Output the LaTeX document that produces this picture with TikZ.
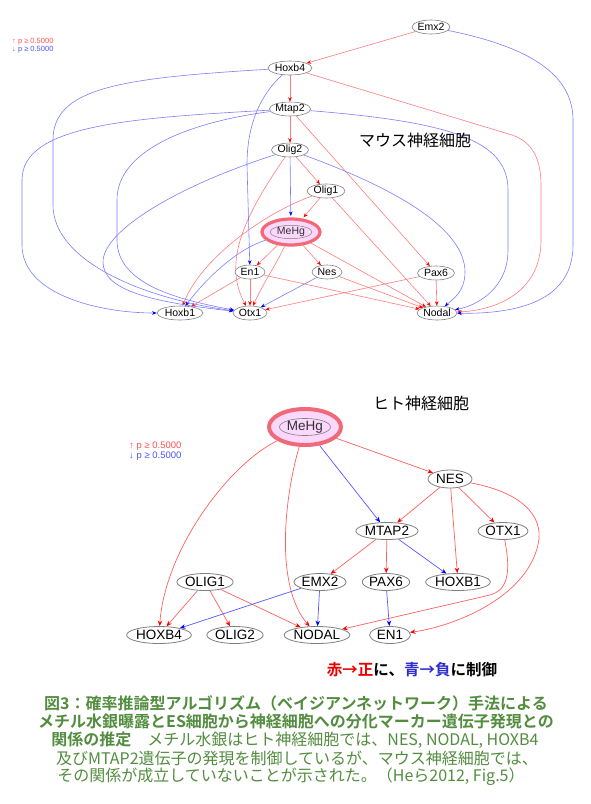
\documentclass[tikz,border=0pt]{standalone}
\usepackage{fontspec}
\setmainfont{Liberation Sans}
\newfontfamily\cjk{Noto Sans CJK JP}[BoldFont={Noto Sans CJK JP Bold}]
\usetikzlibrary{shapes.geometric,arrows.meta}
\pgfdeclarelayer{bg}
\pgfsetlayers{bg,main}
\definecolor{lred}{RGB}{255,125,125}
\definecolor{lblue}{RGB}{125,125,255}
\definecolor{ared}{RGB}{255,0,0}
\definecolor{ablue}{RGB}{0,0,255}
\definecolor{bred}{RGB}{255,95,95}
\definecolor{bblue}{RGB}{85,85,255}
\definecolor{capgreen}{RGB}{82,140,62}
\definecolor{nodegray}{RGB}{128,128,128}
\definecolor{mepink}{RGB}{252,215,252}
\definecolor{meborder}{RGB}{240,105,120}
\definecolor{legred}{RGB}{255,80,80}
\definecolor{legblue}{RGB}{80,80,255}
\definecolor{labred}{RGB}{235,0,0}
\definecolor{labblue}{RGB}{45,45,210}
\tikzset{
  tn/.style={ellipse, draw=nodegray, fill=white, line width=0.6pt, inner sep=0pt, minimum height=14pt, font=\fontsize{10.5}{11}\selectfont},
  bn/.style={ellipse, draw=nodegray, fill=white, line width=0.8pt, inner sep=0pt, minimum height=17pt, font=\fontsize{13.5}{14}\selectfont},
  tr/.style={draw=lred, line width=0.6pt, -{Stealth[length=4.5pt,width=3.6pt,color=ared]}},
  tb/.style={draw=lblue, line width=0.6pt, -{Stealth[length=4.5pt,width=3.6pt,color=ablue]}},
  br/.style={draw=bred, line width=0.7pt, -{Stealth[length=5.5pt,width=4.5pt,color=ared]}},
  bb/.style={draw=bblue, line width=0.7pt, -{Stealth[length=5.5pt,width=4.5pt,color=ablue]}},
  captext/.style={text=capgreen, inner sep=0pt, font=\cjk\fontsize{16}{16}\selectfont},
  ttl/.style={inner sep=0pt, font=\cjk\fontsize{16}{16}\selectfont},
}
\begin{document}
\begin{tikzpicture}[x=1pt,y=-1pt]
\useasboundingbox (0,0) rectangle (590,804);

% ---------------- top graph (mouse) ----------------
\node[tn, minimum width=38pt] (emx2) at (431,27) {Emx2};
\node[tn, minimum width=44pt] (hoxb4) at (290,68) {Hoxb4};
\node[tn, minimum width=40pt] (mtap2) at (290,109) {Mtap2};
\node[tn, minimum width=37pt] (olig2) at (290,150) {Olig2};
\node[tn, minimum width=38pt] (olig1) at (326,191) {Olig1};
\node[ellipse, draw=meborder, line width=3.2pt, fill=mepink, inner sep=0pt, minimum width=58pt, minimum height=26pt] (meo) at (291,232) {};
\node[ellipse, draw=nodegray, line width=0.5pt, fill=mepink, inner sep=0pt, minimum width=42pt, minimum height=12pt, text=black!80, font=\fontsize{10.5}{11}\selectfont] (me) at (291,232) {MeHg};
\node[tn, minimum width=30pt] (en1) at (250,272) {En1};
\node[tn, minimum width=30pt] (nes) at (327,272) {Nes};
\node[tn, minimum width=37pt] (pax6) at (436,273) {Pax6};
\node[tn, minimum width=46pt] (hoxb1) at (180,313) {Hoxb1};
\node[tn, minimum width=34pt] (otx1) at (250,313) {Otx1};
\node[tn, minimum width=40pt] (nodal) at (437,313) {Nodal};

\node[anchor=west, inner sep=0pt, text=legred, font=\fontsize{7.5}{8}\selectfont] (lgt1) at (12,42) {↑ p ≥ 0.5000};
\node[anchor=west, inner sep=0pt, text=legblue, font=\fontsize{7.5}{8}\selectfont] (lgt2) at (12,50) {↓ p ≥ 0.5000};
\node[ttl] (t1) at (415,140) {マウス神経細胞};

\begin{pgfonlayer}{bg}
% red
\draw[tr] (emx2) -- (hoxb4);
\draw[tr] (hoxb4) -- (mtap2);
\draw[tr] (mtap2) -- (olig2);
\draw[tr] (olig2) -- (olig1);
\draw[tr] (hoxb4) -- (512,135) .. controls (533,142) and (541,160) .. (541,185) -- (541,240) .. controls (541,290) and (500,310) .. (nodal);
\draw[tr] (mtap2) -- (pax6);
\draw[tr, shorten >=1.5pt] (olig1) -- (meo);
\draw[tr] (olig1) -- (nodal);
\draw[tr] (olig1) .. controls (262,214) and (200,260) .. (hoxb1);
\draw[tr] (olig2) .. controls (245,215) and (222,262) .. (otx1);
\draw[tr] (meo) -- (en1);
\draw[tr] (meo) -- (nes);
\draw[tr] (meo) .. controls (276,265) and (262,285) .. (otx1);
\draw[tr] (meo) -- (nodal);
\draw[tr] (en1) -- (hoxb1);
\draw[tr] (en1) -- (otx1);
\draw[tr] (en1) -- (nodal);
\draw[tr] (nes) -- (nodal);
\draw[tr] (pax6) -- (otx1);
\draw[tr] (pax6) -- (nodal);
% blue
\draw[tb] (emx2) .. controls (520,45) and (573,70) .. (573,120) -- (573,245) .. controls (573,300) and (520,314) .. (nodal);
\draw[tb] (hoxb4) .. controls (260,95) and (247,125) .. (247,165) -- (en1);
\draw[tb] (hoxb4) .. controls (120,78) and (53,88) .. (53,140) -- (53,205) .. controls (53,260) and (140,298) .. (otx1);
\draw[tb] (mtap2) .. controls (130,118) and (22,125) .. (22,180) -- (22,245) .. controls (22,295) and (100,313) .. (hoxb1);
\draw[tb] (mtap2) .. controls (190,122) and (117,150) .. (117,200) -- (117,240) .. controls (117,285) and (180,300) .. (otx1);
\draw[tb] (olig2) .. controls (180,185) and (103,230) .. (103,262) .. controls (103,290) and (150,302) .. (otx1);
\draw[tb, shorten >=1.5pt] (olig2) -- (meo);
\draw[tb] (olig2) .. controls (400,190) and (465,230) .. (465,272) .. controls (465,292) and (452,300) .. (nodal);
\draw[tb] (mtap2) .. controls (450,122) and (508,140) .. (508,190) -- (508,250) .. controls (508,290) and (475,306) .. (nodal);
\draw[tb] (meo) .. controls (235,250) and (205,280) .. (hoxb1);
\draw[tb] (nes) -- (otx1);
\end{pgfonlayer}

% ---------------- bottom graph (human) ----------------
\node[ellipse, draw=meborder, line width=4pt, fill=mepink, inner sep=0pt, minimum width=72pt, minimum height=36pt] (bmeo) at (305,427) {};
\node[ellipse, draw=nodegray, line width=0.6pt, fill=mepink, inner sep=0pt, minimum width=51pt, minimum height=16pt, text=black!80, font=\fontsize{13.5}{14}\selectfont] (bme) at (305,427) {MeHg};
\node[bn, minimum width=44pt, minimum height=18pt] (bnes) at (450,479) {NES};
\node[bn, minimum width=58pt] (bmtap2) at (387,531) {MTAP2};
\node[bn, minimum width=49pt] (botx1) at (503,531) {OTX1};
\node[bn, minimum width=49pt] (bemx2) at (320,582) {EMX2};
\node[bn, minimum width=46pt] (bpax6) at (386,582) {PAX6};
\node[bn, minimum width=59pt] (bhoxb1) at (458,582) {HOXB1};
\node[bn, minimum width=46pt] (bolig1) at (205,582) {OLIG1};
\node[bn, minimum width=60pt] (bhoxb4) at (159,635) {HOXB4};
\node[bn, minimum width=56pt] (bolig2) at (235,635) {OLIG2};
\node[bn, minimum width=62pt] (bnodal) at (317,635) {NODAL};
\node[bn, minimum width=41pt] (ben1) at (390,635) {EN1};

\node[anchor=west, inner sep=0pt, text=legred, font=\fontsize{9.5}{10}\selectfont] (lgb1) at (129,446) {↑ p ≥ 0.5000};
\node[anchor=west, inner sep=0pt, text=legblue, font=\fontsize{9.5}{10}\selectfont] (lgb2) at (129,456) {↓ p ≥ 0.5000};
\node[ttl] (t2) at (421,403) {ヒト神経細胞};
\node[inner sep=0pt, font=\cjk\bfseries\fontsize{15.5}{16}\selectfont] (lab) at (412,670) {\textcolor{labred}{赤→正}に、\textcolor{labblue}{青→負}に制御};

\begin{pgfonlayer}{bg}
\draw[br] (bmeo) -- (bnes);
\draw[bb] (bmeo) -- (bmtap2);
\draw[br] (bmeo) .. controls (228,465) and (165,550) .. (bhoxb4);
\draw[br] (bmeo) .. controls (285,495) and (274,585) .. (bnodal);
\draw[br] (bnes) -- (bmtap2);
\draw[br] (bnes) -- (bhoxb1);
\draw[br] (bnes) -- (botx1);
\draw[br] (bnes) .. controls (520,492) and (545,515) .. (538,545) .. controls (525,600) and (450,627) .. (ben1);
\draw[br] (bmtap2) -- (bemx2);
\draw[br] (bmtap2) -- (bpax6);
\draw[bb] (bmtap2) -- (bhoxb1);
\draw[br] (botx1) .. controls (511,572) and (508,590) .. (490,595) -- (bnodal);
\draw[br] (bolig1) -- (bhoxb4);
\draw[br] (bolig1) -- (bolig2);
\draw[br] (bolig1) -- (bnodal);
\draw[bb] (bemx2) -- (bhoxb4);
\draw[bb] (bemx2) -- (bnodal);
\draw[bb] (bpax6) -- (ben1);
\end{pgfonlayer}

% ---------------- caption ----------------
\node[captext, font=\cjk\bfseries\fontsize{16}{16}\selectfont] (c1) at (296,703) {図3：確率推論型アルゴリズム（ベイジアンネットワーク）手法による};
\node[captext, font=\cjk\bfseries\fontsize{16}{16}\selectfont] (c2) at (296,721) {メチル水銀曝露とES細胞から神経細胞への分化マーカー遺伝子発現との};
\node[captext] (c3) at (295,740) {{\bfseries 関係の推定}　メチル水銀はヒト神経細胞では、NES, NODAL, HOXB4};
\node[captext] (c4) at (297,758) {及びMTAP2遺伝子の発現を制御しているが、マウス神経細胞では、};
\node[captext] (c5) at (291,777) {その関係が成立していないことが示された。（Heら2012, Fig.5）};
\end{tikzpicture}
\end{document}
